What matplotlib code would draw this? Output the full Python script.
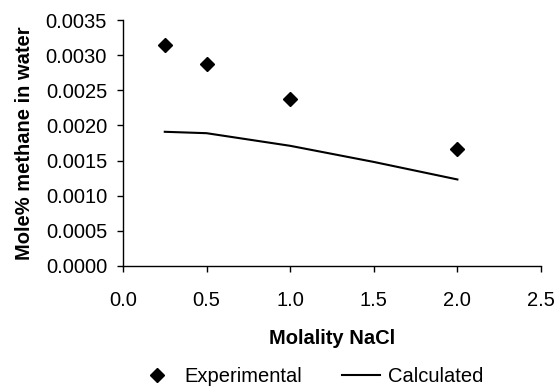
import matplotlib
matplotlib.use("Agg")
import matplotlib.pyplot as plt

plt.rcParams["font.family"] = ["Liberation Sans", "DejaVu Sans"]

# experimental solubility points
exp_molality = [0.25, 0.5, 1.0, 2.0]
exp_mole_pct = [0.00315, 0.00288, 0.00238, 0.00167]

# calculated curve
calc_molality = [0.25, 0.5, 1.0, 1.5, 2.0]
calc_mole_pct = [0.00191, 0.00189, 0.00171, 0.00148, 0.00123]

xticks = [0.0, 0.5, 1.0, 1.5, 2.0, 2.5]
yticks = [0.0, 0.0005, 0.0010, 0.0015, 0.0020, 0.0025, 0.0030, 0.0035]

FS = 14.5

fig = plt.figure(figsize=(5.58, 3.91), dpi=100)
ax = fig.add_axes([0.2204, 0.3205, 0.7491, 0.6275])

ax.plot(exp_molality, exp_mole_pct, "D", color="black", ms=6.8, ls="none",
        label="Experimental")
ax.plot(calc_molality, calc_mole_pct, "-", color="black", lw=1.5,
        label="Calculated")

ax.set_xlim(0, 2.5)
ax.set_ylim(0, 0.0035)
ax.set_xticks(xticks)
ax.set_xticklabels([f"{v:.1f}" for v in xticks])
ax.set_yticks(yticks)
ax.set_yticklabels([f"{v:.4f}" for v in yticks])
ax.tick_params(direction="out", length=4.5, width=1, labelsize=FS)
ax.tick_params(axis="y", pad=7)
ax.tick_params(axis="x", pad=14)
ax.spines[["top", "right"]].set_visible(False)
for s in ("left", "bottom"):
    ax.spines[s].set_linewidth(1)

ax.set_xlabel("Molality NaCl", fontsize=FS, fontweight="bold", va="center")
ax.xaxis.set_label_coords(0.5, -0.295)
ax.set_ylabel("Mole% methane in water", fontsize=FS, fontweight="bold", va="center")
ax.yaxis.set_label_coords(-0.235, 0.5)

fig.legend(loc="center", bbox_to_anchor=(0.557, 0.038), ncol=2, frameon=False,
           fontsize=FS, handlelength=1.9, columnspacing=2.0, handletextpad=0.4,
           borderpad=0, borderaxespad=0)

fig.savefig("out.png", dpi=100)
